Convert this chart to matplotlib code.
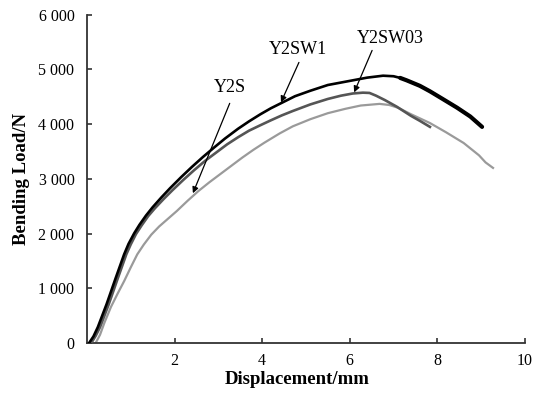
import matplotlib
matplotlib.use("Agg")
import matplotlib.pyplot as plt
from matplotlib.ticker import FuncFormatter

# ---- data ----
sw1_x = [0.05, 0.15, 0.25, 0.45, 0.65, 0.85, 0.95, 1.08, 1.20, 1.35, 1.50, 1.70, 1.90,
         2.15, 2.40, 2.65, 2.90, 3.15, 3.45, 3.70, 3.96, 4.20, 4.45, 4.75, 5.10, 5.50,
         6.00, 6.40, 6.76, 7.00, 7.15, 7.30, 7.60, 7.83, 8.10, 8.45, 8.75, 9.02]
sw1_y = [0, 120, 290, 710, 1170, 1620, 1810, 2005, 2160, 2330, 2480, 2660, 2830,
         3030, 3220, 3400, 3570, 3735, 3915, 4050, 4180, 4290, 4390, 4510, 4610, 4715,
         4790, 4850, 4885, 4875, 4845, 4800, 4700, 4600, 4470, 4300, 4140, 3950]

sw03_x = [0.10, 0.20, 0.30, 0.50, 0.70, 0.90, 1.00, 1.12, 1.25, 1.40, 1.55, 1.75, 1.95,
          2.20, 2.45, 2.70, 2.95, 3.20, 3.45, 3.70, 3.96, 4.20, 4.45, 4.70, 5.10, 5.50,
          5.80, 6.07, 6.30, 6.45, 6.60, 6.80, 7.07, 7.40, 7.60, 7.83]
sw03_y = [0, 130, 290, 710, 1170, 1620, 1800, 1990, 2150, 2320, 2460, 2630, 2790,
          2980, 3160, 3330, 3480, 3630, 3760, 3880, 3980, 4070, 4160, 4240, 4360, 4460,
          4520, 4560, 4575, 4570, 4520, 4440, 4320, 4150, 4060, 3950]

s_x = [0.20, 0.30, 0.40, 0.55, 0.70, 0.85, 1.00, 1.15, 1.30, 1.47, 1.65, 1.85, 2.05,
       2.30, 2.55, 2.80, 3.05, 3.30, 3.55, 3.80, 4.05, 4.40, 4.70, 5.10, 5.50, 5.90,
       6.25, 6.68, 6.90, 7.10, 7.40, 7.83, 8.20, 8.60, 8.95, 9.10, 9.27]
s_y = [0, 150, 370, 660, 900, 1130, 1380, 1620, 1800, 1980, 2130, 2270, 2410,
       2600, 2780, 2940, 3090, 3240, 3390, 3530, 3660, 3830, 3960, 4090, 4200, 4280,
       4340, 4370, 4350, 4300, 4180, 4020, 3850, 3655, 3430, 3300, 3200]

x_ticks = [2, 4, 6, 8, 10]
y_ticks = [0, 1000, 2000, 3000, 4000, 5000, 6000]

labels = ["Y2SW1", "Y2SW03", "Y2S"]
label_pos = [(4.82, 5365), (6.92, 5566), (3.26, 4672)]
arrow_tail = [(4.84, 5128), (6.51, 5347), (3.26, 4380)]
arrow_head = [(4.43, 4398), (6.10, 4580), (2.42, 2737)]

# ---- figure ----
plt.rcParams['font.family'] = ['Liberation Serif', 'DejaVu Serif']
fig = plt.figure(figsize=(5.33, 3.97), dpi=100)
ax = fig.add_axes([0.163, 0.136, 0.822, 0.827])

ax.plot(s_x, s_y, color='#9a9a9a', lw=1.6, zorder=2, solid_joinstyle='round')
ax.plot(sw03_x, sw03_y, color='#555555', lw=1.9, zorder=3, solid_joinstyle='round')
ax.plot(sw1_x, sw1_y, color='#000000', lw=1.9, zorder=4, solid_joinstyle='round')
# thicker, noisy-looking tail of the black curve
tail = [i for i, v in enumerate(sw1_x) if v >= 7.15]
ax.plot([sw1_x[i] for i in tail], [sw1_y[i] for i in tail], color='#000000', lw=3.0,
        solid_capstyle='round', solid_joinstyle='round', zorder=4)

for lab, p, t, h in zip(labels, label_pos, arrow_tail, arrow_head):
    ax.text(p[0], p[1], lab, ha='center', va='center', fontsize=13)
    ax.annotate('', xy=h, xytext=t,
                arrowprops=dict(arrowstyle='-|>', color='black', lw=0.9,
                                mutation_scale=9, shrinkA=0, shrinkB=0))

ax.set_xlim(0, 10)
ax.set_ylim(0, 6000)
ax.set_xticks(x_ticks)
ax.set_yticks(y_ticks)
ax.yaxis.set_major_formatter(FuncFormatter(lambda v, p: f"{int(v):,}".replace(',', ' ')))

for s in ['top', 'right']:
    ax.spines[s].set_visible(False)
for s in ['left', 'bottom']:
    ax.spines[s].set_linewidth(1.3)
    ax.spines[s].set_color('#333333')

ax.tick_params(axis='both', direction='in', length=3.5, width=1.2, color='#333333',
               labelsize=11.5)
ax.tick_params(axis='x', pad=7)
ax.tick_params(axis='y', pad=9)

ax.set_xlabel('Displacement/mm', fontsize=13.5, fontweight='bold')
ax.xaxis.set_label_coords(0.48, -0.085)
ax.set_ylabel('Bending Load/N', fontsize=13.5, fontweight='bold', labelpad=6)

fig.savefig('out.png', dpi=100)
